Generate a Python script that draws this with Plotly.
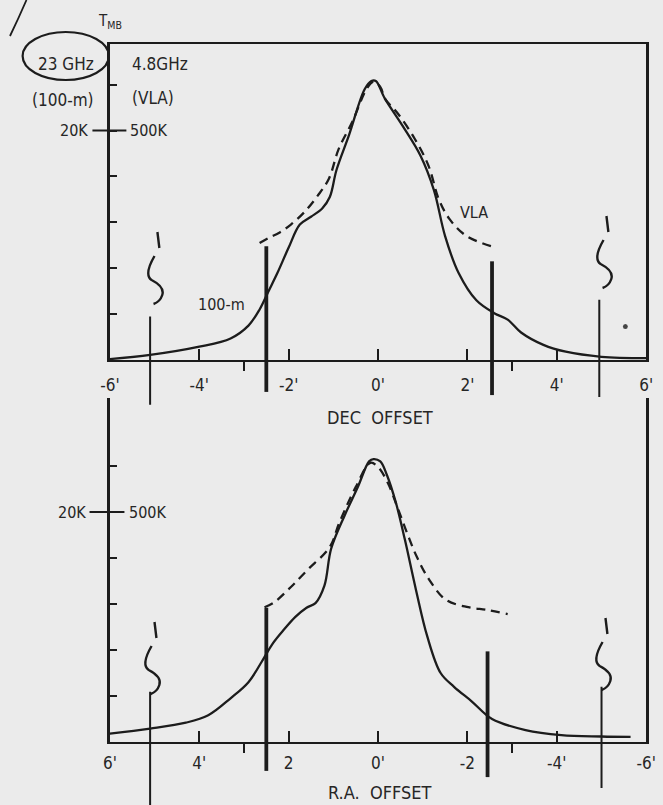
import plotly.graph_objects as go

W, H = 663, 805

# ---------------- data (values in units of 100 K of VLA brightness; 1 unit = 4 K for the 100-m) -------------
dec_x_100m = [-6.0, -5.1, -4.0, -3.3, -2.9, -2.65, -2.45, -2.25, -2.0, -1.75, -1.5, -1.25, -1.08, -0.93,
              -0.65, -0.3, -0.15, -0.05, 0.15, 0.55, 0.95, 1.25, 1.5, 1.8, 2.2, 2.6, 2.9, 3.2, 3.7, 4.2, 5.0, 6.0]
dec_y_100m = [0.02, 0.11, 0.29, 0.47, 0.75, 1.1, 1.5, 1.9, 2.45, 2.95, 3.12, 3.3, 3.55, 4.14,
              4.9, 5.9, 6.08, 6.08, 5.7, 5.1, 4.45, 3.7, 2.7, 1.9, 1.3, 1.02, 0.88, 0.6, 0.33, 0.18, 0.07, 0.04]

dec_x_vla = [-2.65, -2.45, -2.2, -1.95, -1.65, -1.35, -1.1, -0.88, -0.57, -0.26, -0.11, 0.05, 0.15,
             0.45, 0.82, 1.13, 1.36, 1.6, 1.98, 2.53]
dec_y_vla = [2.55, 2.66, 2.78, 2.95, 3.22, 3.58, 3.95, 4.6, 5.2, 5.9, 6.06, 5.95, 5.7,
             5.36, 4.82, 4.23, 3.5, 3.07, 2.7, 2.48]

ra_x_100m = [6.0, 5.1, 4.3, 3.8, 3.3, 2.9, 2.6, 2.35, 2.1, 1.85, 1.6, 1.4, 1.2, 1.05, 0.75, 0.45, 0.2,
             0.1, -0.05, -0.2, -0.4, -0.6, -0.85, -1.1, -1.4, -1.7, -2.1, -2.55, -3.3, -4.1, -5.0, -5.65]
ra_y_100m = [0.18, 0.29, 0.42, 0.58, 0.95, 1.3, 1.75, 2.15, 2.45, 2.72, 2.92, 3.02, 3.4, 4.2, 4.92, 5.55, 6.1,
             6.15, 6.1, 5.8, 5.2, 4.4, 3.3, 2.3, 1.5, 1.2, 0.88, 0.5, 0.26, 0.15, 0.12, 0.11]

ra_x_vla = [2.54, 2.32, 1.95, 1.58, 1.08, 0.87, 0.5, 0.17, 0.0, -0.22, -0.43, -0.65, -0.87, -1.15,
            -1.52, -2.02, -2.45, -2.9]
ra_y_vla = [2.93, 3.04, 3.37, 3.74, 4.24, 4.76, 5.54, 6.07, 5.98, 5.63, 5.11, 4.54, 4.02, 3.52,
            3.09, 2.93, 2.87, 2.78]

# vertical marker bars (offset, height)
dec_bar_x = [-5.1, -2.5, 2.55, 4.95]
dec_bar_top = [0.95, 2.48, 2.15, 1.31]
ra_bar_x = [5.1, 2.5, -2.45, -5.0]
ra_bar_top = [1.09, 2.92, 1.97, 1.2]
bar_kind = ["thin", "thick", "thick", "thin"]

x_tick_vals = [-6, -4, -2, 0, 2, 4, 6]
dec_tick_text = ["-6'", "-4'", "-2'", "0'", "2'", "4'", "6'"]
ra_tick_text = ["-6'", "-4'", "-2", "0'", "2", "4'", "6'"]
y_tick_vals = [1, 2, 3, 4, 5, 6]
ref_level = 5  # 500 K (VLA) == 20 K (100-m)

# ---------------- styling / layout ---------------------------------------------------------------
INK = "#1c1c1c"
TXT = "#262626"
BG = "#ebebeb"
FONT = "DejaVu Sans Condensed, Liberation Sans Narrow, DejaVu Sans, sans-serif"


def px(x):
    return x / W


def py(y):
    return 1 - y / H


top_xdom = [px(103), px(656)]
top_ydom = [py(360), py(44)]
bot_ydom = [py(742), py(398)]
top_yrange = [0, 316 / 45.9]
bot_yrange = [0, 344 / 46.0]

fig = go.Figure()

line_solid = dict(color=INK, width=2.3)
line_dash = dict(color=INK, width=2.3, dash="9px,6px")

fig.add_trace(go.Scatter(x=dec_x_100m, y=dec_y_100m, mode="lines", line=line_solid, xaxis="x", yaxis="y",
                         line_shape="spline", showlegend=False, hoverinfo="skip"))
fig.add_trace(go.Scatter(x=dec_x_vla, y=dec_y_vla, mode="lines", line=line_dash, xaxis="x", yaxis="y",
                         line_shape="spline", showlegend=False, hoverinfo="skip"))
fig.add_trace(go.Scatter(x=ra_x_100m, y=ra_y_100m, mode="lines", line=line_solid, xaxis="x2", yaxis="y2",
                         line_shape="spline", showlegend=False, hoverinfo="skip"))
fig.add_trace(go.Scatter(x=ra_x_vla, y=ra_y_vla, mode="lines", line=line_dash, xaxis="x2", yaxis="y2",
                         line_shape="spline", showlegend=False, hoverinfo="skip"))

shapes = []
dec_ext = [-0.142, -0.101, -0.111, -0.117]
ra_ext = [-0.183, -0.084, -0.102, -0.134]
for xs, tops, ext, xa, ya in [(dec_bar_x, dec_bar_top, dec_ext, "x", "y"),
                              (ra_bar_x, ra_bar_top, ra_ext, "x2", "y2")]:
    for xv, tv, ev, kind in zip(xs, tops, ext, bar_kind):
        w = 3.8 if kind == "thick" else 2.0
        fig.add_trace(go.Scatter(x=[xv, xv], y=[0, tv], mode="lines", line=dict(color=INK, width=w),
                                 xaxis=xa, yaxis=ya, showlegend=False, hoverinfo="skip"))
        shapes.append(dict(type="line", xref=xa, yref=ya + " domain", x0=xv, x1=xv, y0=ev, y1=0,
                           line=dict(color=INK, width=w)))

# 500K / 20K long reference ticks
shapes.append(dict(type="line", xref="paper", yref="y", x0=px(85), x1=px(120), y0=ref_level, y1=ref_level,
                   line=dict(color=INK, width=2)))
shapes.append(dict(type="line", xref="paper", yref="y2", x0=px(82), x1=px(118), y0=ref_level, y1=ref_level,
                   line=dict(color=INK, width=2)))

# hand-drawn decorations
shapes.append(dict(type="circle", xref="paper", yref="paper", x0=px(13), x1=px(102), y0=py(80), y1=py(32),
                   line=dict(color=INK, width=2.2)))
shapes.append(dict(type="path", xref="paper", yref="paper",
                   path=f"M {px(0)},{py(36)} Q {px(9)},{py(18)} {px(17)},{py(0)}",
                   line=dict(color=INK, width=1.8)))


def squiggle(ox, oy):
    pts = lambda dx, dy: f"{px(ox + dx)},{py(oy + dy)}"
    p = (f"M {pts(2, 0)} L {pts(4, 16)} "
         f"M {pts(-1, 24)} C {pts(-7, 34)} {pts(-10, 44)} {pts(-4, 48)} "
         f"C {pts(4, 52)} {pts(9, 57)} {pts(7, 63)} C {pts(5, 69)} {pts(1, 71)} {pts(-2, 72)}")
    return dict(type="path", xref="paper", yref="paper", path=p, line=dict(color=INK, width=2.4))


for (ox, oy) in [(150, 232), (613, 216), (147, 622), (612, 618)]:
    shapes.append(squiggle(ox, oy))
shapes.append(dict(type="circle", xref="paper", yref="paper", x0=px(632), x1=px(637), y0=py(329), y1=py(324),
                   fillcolor="#444", line=dict(width=0)))

ann = []


def text(x, y, s, size=17, xanchor="center"):
    ann.append(dict(x=px(x), y=py(y), xref="paper", yref="paper", text=s, showarrow=False,
                    xanchor=xanchor, yanchor="middle", font=dict(family=FONT, size=size, color=TXT)))


text(103, 22, "T<sub>MB</sub>", size=15)
text(58, 64, "23 GHz", size=17)
text(55, 100, "(100-m)", size=17)
text(124, 64, "4.8GHz", size=17, xanchor="left")
text(124, 98, "(VLA)", size=17, xanchor="left")
text(478, 212, "VLA", size=16)
text(218, 305, "100-m", size=16)
text(382, 417, "DEC  OFFSET", size=18)
text(382, 792, "R.A.  OFFSET", size=18)
for yr, xl, xr in [("y", 83, 122), ("y2", 80, 121)]:
    ann.append(dict(x=px(xl), y=ref_level, xref="paper", yref=yr, text="20K", showarrow=False,
                    xanchor="right", yanchor="middle", font=dict(family=FONT, size=16, color=TXT)))
    ann.append(dict(x=px(xr), y=ref_level, xref="paper", yref=yr, text="500K", showarrow=False,
                    xanchor="left", yanchor="middle", font=dict(family=FONT, size=16, color=TXT)))

axis_common = dict(showgrid=False, zeroline=False, showline=True, linecolor=INK, linewidth=2.4,
                   ticks="inside", tickcolor=INK, tickwidth=2, fixedrange=True)

fig.update_layout(
    width=W, height=H, margin=dict(l=0, r=0, t=0, b=0),
    paper_bgcolor=BG, plot_bgcolor=BG, showlegend=False,
    xaxis=dict(domain=top_xdom, anchor="y", range=[-6, 6], tickmode="array", tickvals=x_tick_vals,
               ticktext=dec_tick_text, ticklen=11, mirror=True, ticklabelstandoff=8,
               tickfont=dict(family=FONT, size=17, color=TXT),
               minor=dict(tickmode="array", tickvals=[-3, 3], ticks="outside", ticklen=9,
                          tickwidth=1.6, tickcolor=INK),
               **axis_common),
    yaxis=dict(domain=top_ydom, anchor="x", range=top_yrange, tickmode="array", tickvals=y_tick_vals,
               showticklabels=False, ticklen=7, mirror=True, **axis_common),
    xaxis2=dict(domain=top_xdom, anchor="y2", range=[6, -6], tickmode="array", tickvals=x_tick_vals,
                ticktext=ra_tick_text, ticklen=11, ticklabelstandoff=4,
                tickfont=dict(family=FONT, size=17, color=TXT),
                minor=dict(tickmode="array", tickvals=[3, -3], ticks="outside", ticklen=9,
                           tickwidth=1.6, tickcolor=INK),
                **axis_common),
    yaxis2=dict(domain=bot_ydom, anchor="x2", range=bot_yrange, tickmode="array", tickvals=y_tick_vals,
                showticklabels=False, ticklen=7, mirror=True, **axis_common),
    shapes=shapes, annotations=ann,
)

fig.write_html(
    "out.html",
    config={"displayModeBar": False, "staticPlot": True},
    post_script="document.body.style.margin='0';document.body.style.padding='0';"
                "document.body.style.overflow='hidden';document.body.style.background='#ebebeb';",
)
